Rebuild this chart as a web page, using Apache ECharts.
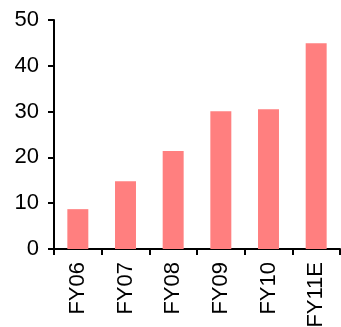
<!DOCTYPE html>
<html>
<head>
<meta charset="utf-8">
<script src="https://cdn.jsdelivr.net/npm/echarts@6/dist/echarts.min.js"></script>
<style>
  html, body { margin: 0; padding: 0; background: #fff; }
  #chart { width: 341px; height: 327px; }
</style>
</head>
<body>
<div id="chart"></div>
<script>
// Fiscal years along the x axis
const categories = ['FY06', 'FY07', 'FY08', 'FY09', 'FY10', 'FY11E'];
// Bar values per year
const values = [8.7, 14.8, 21.4, 30.1, 30.5, 44.9];
// Y axis range and step
const yMin = 0;
const yMax = 50;
const yStep = 10;

const chart = echarts.init(document.getElementById('chart'), null, { renderer: 'canvas' });

const axisFont = {
  fontFamily: 'Liberation Sans, Arial, sans-serif',
  fontSize: 22,
  color: '#000'
};

chart.setOption({
  animation: false,
  grid: {
    left: 54, right: 1, top: 20, bottom: 78,
    containLabel: false,
    outerBoundsMode: 'none'
  },
  xAxis: {
    type: 'category',
    data: categories,
    axisLine: { show: true, lineStyle: { color: '#000', width: 2 } },
    axisTick: { show: true, length: 6, lineStyle: { color: '#000', width: 2 } },
    axisLabel: Object.assign({ rotate: 90, margin: 13, interval: 0 }, axisFont),
    splitLine: { show: false }
  },
  yAxis: {
    type: 'value',
    min: yMin,
    max: yMax,
    interval: yStep,
    axisLine: { show: true, lineStyle: { color: '#000', width: 2 } },
    axisTick: { show: true, length: 6, lineStyle: { color: '#000', width: 2 } },
    axisLabel: Object.assign({ margin: 15 }, axisFont),
    splitLine: { show: false }
  },
  series: [{
    type: 'bar',
    data: values,
    barWidth: '44%',
    itemStyle: { color: '#FF7F7F' }
  }]
});
</script>
</body>
</html>
